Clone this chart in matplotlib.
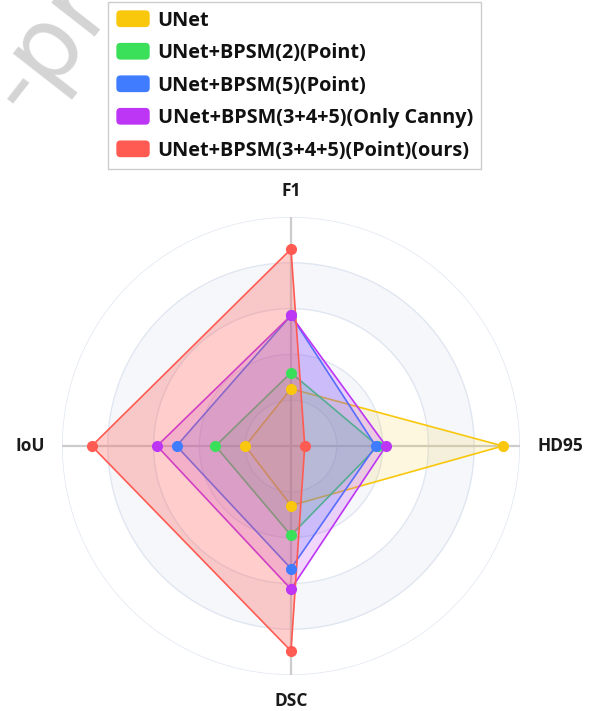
import numpy as np
import matplotlib
matplotlib.use('Agg')
import matplotlib.pyplot as plt
import matplotlib.patches as mpatches
from matplotlib.patches import FancyBboxPatch
from matplotlib.legend_handler import HandlerPatch

# ---------------- data ----------------
indicators = ['F1', 'HD95', 'DSC', 'IoU']
indicator_max = [1.0, 1.0, 1.0, 1.0]
series_names = ['UNet', 'UNet+BPSM(2)(Point)', 'UNet+BPSM(5)(Point)',
                'UNet+BPSM(3+4+5)(Only Canny)', 'UNet+BPSM(3+4+5)(Point)(ours)']
unet = [0.25, 0.925, 0.26, 0.20]
bpsm2 = [0.32, 0.38, 0.39, 0.33]
bpsm5 = [0.57, 0.37, 0.535, 0.50]
canny = [0.57, 0.415, 0.625, 0.585]
ours = [0.86, 0.06, 0.895, 0.87]
series_values = [unet, bpsm2, bpsm5, canny, ours]
colors = ['#F9C70C', '#3BE05A', '#3F7CFF', '#BD35F5', '#FF5B53']
fill_alpha = [0.13, 0.2, 0.2, 0.2, 0.3]

FONT = ['Open Sans', 'DejaVu Sans']
plt.rcParams['font.family'] = FONT

W, H = 590, 711
fig = plt.figure(figsize=(W / 100, H / 100), dpi=100)
fig.patch.set_facecolor('white')

# watermark
fig.text(48 / W, 1 - 46 / H, '-pr', rotation=52, fontsize=72, color='#d4d4d4',
         ha='center', va='center', family='DejaVu Sans', zorder=0)

cx, cy, R = 291, 446, 229
ax = fig.add_axes([(cx - R) / W, (H - cy - R) / H, 2 * R / W, 2 * R / H], projection='polar')
ax.set_theta_zero_location('N')
ax.set_theta_direction(-1)
ax.set_ylim(0, 1)
ax.axis('off')

n = len(indicators)
thetas = np.arange(n) * 2 * np.pi / n
tfull = np.linspace(0, 2 * np.pi, 361)

# split areas and lines
split_n = 5
band_colors = ['#FFFFFF', '#F5F7FB']
for i in range(split_n):
    r0, r1 = i / split_n, (i + 1) / split_n
    ax.fill_between(tfull, r0, r1, color=band_colors[i % 2], lw=0, zorder=0)
for i in range(1, split_n + 1):
    ax.plot(tfull, np.full_like(tfull, i / split_n), color='#E0E6F1', lw=1.0, zorder=1)
for t in thetas:
    ax.plot([t, t], [0, 1], color='#CCCCCC', lw=1.6, zorder=1)

for k, (name, vals) in enumerate(zip(series_names, series_values)):
    r = np.array(vals) / np.array(indicator_max)
    tt = np.append(thetas, thetas[0])
    rr = np.append(r, r[0])
    ax.fill(tt, rr, color=colors[k], alpha=fill_alpha[k], lw=0, zorder=2 + k)
    ax.plot(tt, rr, color=colors[k], lw=1.2, zorder=2 + k)
    ax.plot(thetas, r, 'o', color=colors[k], markersize=7, zorder=10 + k, clip_on=False)

# axis names
name_r = 1.075
aligns = [('center', 'bottom'), ('left', 'center'), ('center', 'top'), ('right', 'center')]
for t, lab, (ha, va) in zip(thetas, indicators, aligns):
    ax.text(t, name_r, lab, ha=ha, va=va, fontsize=12.5, fontweight='bold', color='#1a1a1a',
            clip_on=False)


class RoundHandler(HandlerPatch):
    def create_artists(self, legend, orig_handle, xdescent, ydescent, width, height,
                       fontsize, trans):
        p = FancyBboxPatch((-xdescent, -ydescent), width, height,
                           boxstyle='round,pad=0,rounding_size=3',
                           facecolor=orig_handle.get_facecolor(), edgecolor='none',
                           transform=trans)
        return [p]


handles = [mpatches.Patch(facecolor=c) for c in colors]
leg = fig.legend(handles, series_names, loc='upper left',
                 bbox_to_anchor=(108 / W, 1 - 2 / H), borderaxespad=0,
                 handler_map={mpatches.Patch: RoundHandler()},
                 prop={'family': FONT, 'weight': 'bold', 'size': 14.3},
                 handlelength=1.68, handleheight=0.92, handletextpad=0.4,
                 labelspacing=0.62, borderpad=0.42, fancybox=False,
                 edgecolor='#CCCCCC', framealpha=1, facecolor='white')
leg.get_frame().set_linewidth(1.0)
leg.set_zorder(20)
for txt in leg.get_texts():
    txt.set_color('#111111')

fig.savefig('out.png', dpi=100, facecolor='white')
